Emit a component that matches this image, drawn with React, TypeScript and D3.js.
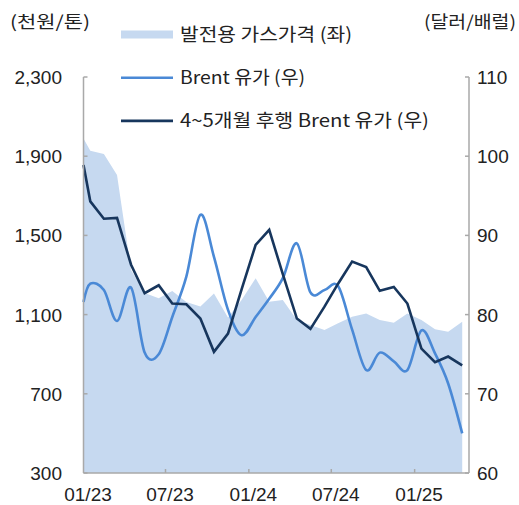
import {useEffect, useRef} from "react";
import * as d3 from "d3";

// mid-month observations, first point pinned at the axis start
const dates = [
    "2023-01-01", "2023-01-16", "2023-02-15", "2023-03-16", "2023-04-16", "2023-05-16",
    "2023-06-16", "2023-07-16", "2023-08-16", "2023-09-16", "2023-10-16", "2023-11-16",
    "2023-12-16", "2024-01-16", "2024-02-15", "2024-03-16", "2024-04-16", "2024-05-16",
    "2024-06-16", "2024-07-16", "2024-08-16", "2024-09-16", "2024-10-16", "2024-11-16",
    "2024-12-16", "2025-01-16", "2025-02-15", "2025-03-16", "2025-04-16"
];

// 발전용 가스가격 (천원/톤, 좌)
const gasPrice = [
    1990, 1928, 1911, 1805, 1325, 1209, 1182, 1219, 1164, 1141, 1207, 1085,
    1174, 1283, 1165, 1174, 1073, 1047, 1022, 1056, 1089, 1106, 1073, 1059,
    1106, 1073, 1026, 1014, 1064
];

// Brent 유가 (달러/배럴, 우)
const brent = [
    81.6, 83.9, 83.1, 79.2, 83.4, 75.2, 75.0, 79.7, 84.8, 92.6, 87.3, 80.6,
    77.4, 79.7, 82.0, 84.6, 89.0, 82.8, 83.1, 83.6, 78.1, 73.0, 75.2, 74.1,
    73.0, 78.0, 75.1, 71.3, 65.0
];

// 4~5개월 후행 Brent 유가 (달러/배럴, 우)
const brentLagged = [
    98.9, 94.3, 92.1, 92.2, 86.3, 82.7, 83.7, 81.4, 81.3, 79.5, 75.3, 77.6,
    83.2, 88.8, 90.7, 85.1, 79.5, 78.2, 81.0, 83.9, 86.7, 86.0, 83.0, 83.5,
    81.4, 75.7, 74.0, 74.7, 73.6
];

const leftTicks = [300, 700, 1100, 1500, 1900, 2300];
const rightTicks = [60, 70, 80, 90, 100, 110];
const xTicks = ["2023-01-01", "2023-07-01", "2024-01-01", "2024-07-01", "2025-01-01"];

const legendItems = [
    {label: "발전용 가스가격 (좌)", kind: "area", len: 172},
    {label: "Brent 유가 (우)", kind: "brent", len: 125},
    {label: "4~5개월 후행 Brent 유가 (우)", kind: "lagged", len: 249}
];

const colors = {area: "#c6d9f0", brent: "#4a89d6", lagged: "#17365d"};

export default function App() {
    const ref = useRef(null);

    useEffect(() => {
        const width = 519;
        const height = 505;
        const left = 83.5, right = 469, top = 77, bottom = 473;
        const numFont = "'Liberation Sans', Arial, sans-serif";
        const krFont = "'Noto Sans CJK KR', 'Liberation Sans', sans-serif";

        const parse = d3.timeParse("%Y-%m-%d");
        const X = dates.map(parse);

        const x = d3.scaleTime()
            .domain([parse("2023-01-01"), parse("2025-05-01")])
            .range([left, right]);
        const yL = d3.scaleLinear().domain([300, 2300]).range([bottom, top]);
        const yR = d3.scaleLinear().domain([60, 110]).range([bottom, top]);

        const svg = d3.select(ref.current);
        svg.selectAll("*").remove();
        svg.attr("width", width).attr("height", height);

        svg.append("rect").attr("width", width).attr("height", height).attr("fill", "#fff");

        // gas price area
        const area = d3.area()
            .x((_, i) => x(X[i]))
            .y0(bottom)
            .y1(d => yL(d));
        svg.append("path")
            .datum(gasPrice)
            .attr("fill", colors.area)
            .attr("d", area);

        // brent (smoothed)
        const smooth = d3.line()
            .x((_, i) => x(X[i]))
            .y(d => yR(d))
            .curve(d3.curveCardinal.tension(0));
        svg.append("path")
            .datum(brent)
            .attr("fill", "none")
            .attr("stroke", colors.brent)
            .attr("stroke-width", 2.6)
            .attr("d", smooth);

        // lagged brent (straight segments)
        const straight = d3.line()
            .x((_, i) => x(X[i]))
            .y(d => yR(d));
        svg.append("path")
            .datum(brentLagged)
            .attr("fill", "none")
            .attr("stroke", colors.lagged)
            .attr("stroke-width", 2.6)
            .attr("stroke-linejoin", "miter")
            .attr("d", straight);

        // axes frame
        const axisColor = "#a9a9a9";
        const g = svg.append("g").attr("stroke", axisColor).attr("stroke-width", 1.5);
        g.append("line").attr("x1", left).attr("x2", left).attr("y1", top).attr("y2", bottom);
        g.append("line").attr("x1", right).attr("x2", right).attr("y1", top).attr("y2", bottom);
        g.append("line").attr("x1", left).attr("x2", right).attr("y1", bottom).attr("y2", bottom);

        g.selectAll(".tl").data(leftTicks).join("line")
            .attr("x1", left).attr("x2", left + 4)
            .attr("y1", d => yL(d)).attr("y2", d => yL(d));
        g.selectAll(".tr").data(rightTicks).join("line")
            .attr("x1", right - 4).attr("x2", right)
            .attr("y1", d => yR(d)).attr("y2", d => yR(d));
        g.selectAll(".tx").data(xTicks.slice(1)).join("line")
            .attr("x1", d => x(parse(d))).attr("x2", d => x(parse(d)))
            .attr("y1", bottom).attr("y2", bottom - 4);

        const fmt = d3.format(",");
        svg.append("g")
            .attr("font-family", numFont).attr("font-size", 19).attr("fill", "#222")
            .attr("text-anchor", "end")
            .selectAll("text").data(leftTicks).join("text")
            .attr("x", 62).attr("y", d => yL(d) + 7)
            .text(d => fmt(d));

        svg.append("g")
            .attr("font-family", numFont).attr("font-size", 19).attr("fill", "#222")
            .selectAll("text").data(rightTicks).join("text")
            .attr("x", 477).attr("y", d => yR(d) + 7)
            .text(d => d);

        const fmtX = d3.timeFormat("%m/%y");
        svg.append("g")
            .attr("font-family", numFont).attr("font-size", 19).attr("fill", "#222")
            .attr("text-anchor", "middle")
            .selectAll("text").data(xTicks).join("text")
            .attr("x", d => x(parse(d)) + 4.5).attr("y", 501)
            .text(d => fmtX(parse(d)));

        // units
        svg.append("text")
            .attr("x", 10).attr("y", 28)
            .attr("font-family", krFont).attr("font-size", 17).attr("fill", "#222")
            .attr("textLength", 80).attr("lengthAdjust", "spacingAndGlyphs")
            .text("(천원/톤)");
        svg.append("text")
            .attr("x", 424).attr("y", 28)
            .attr("font-family", krFont).attr("font-size", 17).attr("fill", "#222")
            .attr("textLength", 92).attr("lengthAdjust", "spacingAndGlyphs")
            .text("(달러/배럴)");

        // legend
        const lg = svg.append("g").attr("font-family", krFont).attr("font-size", 18).attr("fill", "#222");
        legendItems.forEach((item, i) => {
            const cy = 34.5 + i * 43.2;
            if (item.kind === "area") {
                lg.append("rect").attr("x", 121).attr("y", cy - 4).attr("width", 52).attr("height", 8)
                    .attr("fill", colors.area);
            } else {
                lg.append("line").attr("x1", 121).attr("x2", 173).attr("y1", cy).attr("y2", cy)
                    .attr("stroke", colors[item.kind]).attr("stroke-width", 2.6);
            }
            lg.append("text")
                .attr("x", 180).attr("y", cy + 6.5)
                .attr("textLength", item.len).attr("lengthAdjust", "spacingAndGlyphs")
                .text(item.label);
        });
    }, []);

    return <svg ref={ref} style={{position: "absolute", left: 0, top: 0}}/>;
}
